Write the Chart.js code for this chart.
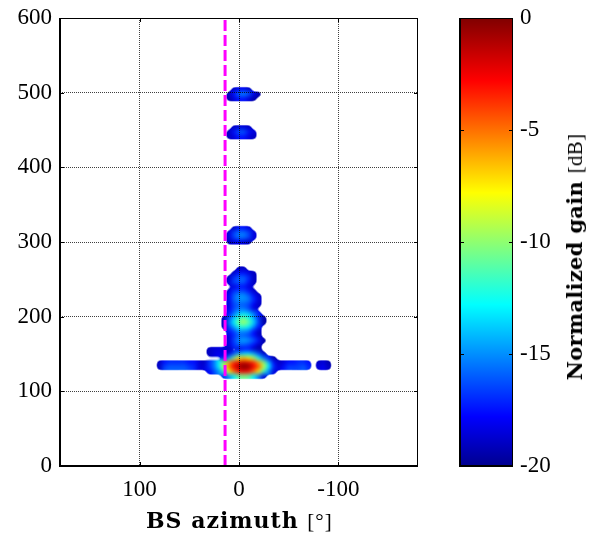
<!DOCTYPE html>
<html>
<head>
<meta charset="utf-8">
<style>
  body { margin: 0; background: #fff; }
  #wrap { position: relative; width: 605px; height: 534px; overflow: hidden; }
  canvas { position: absolute; top: 0; }
  .label { position: absolute; white-space: nowrap; font: bold 21px "DejaVu Serif", serif; color: #000; }
  .label span { font: 21px "Liberation Serif", serif; }
  #xLabel { left: 146px; top: 507px; font-size: 22px; letter-spacing: 1px; }
  #barLabel { left: 575px; top: 257px; letter-spacing: 0.3px; transform: translate(-50%, -50%) rotate(-90deg); }
</style>
</head>
<body>
<div id="wrap">
  <canvas id="mainChart" width="605" height="534" style="left:0"></canvas>
  <canvas id="barChart" width="165" height="534" style="left:440px"></canvas>
  <div class="label" id="xLabel">BS azimuth <span>[°]</span></div>
  <div class="label" id="barLabel">Normalized gain <span>[dB]</span></div>
  <svg width="0" height="0" style="position:absolute">
    <filter id="soften" color-interpolation-filters="sRGB" x="0" y="0" width="100%" height="100%">
      <feGaussianBlur stdDeviation="2.2"></feGaussianBlur>
      <feComponentTransfer>
        <feFuncA type="linear" slope="4" intercept="-1.5"></feFuncA>
      </feComponentTransfer>
    </filter>
  </svg>
</div>
<script src="https://cdn.jsdelivr.net/npm/chart.js@4"></script>
<script>
const xTicks = [100, 0, -100];
const yTicks = [0, 100, 200, 300, 400, 500, 600];
const barTicks = [0, -5, -10, -15, -20];
const beamAzimuth = 14;
const azStep = 5;

// each row starts at firstAz and runs towards negative azimuth in azStep steps
const delays = [504, 498, 492, 453, 447, 441, 318, 312, 306, 300,
  264, 258, 252, 246, 240, 234, 228, 222, 216, 210, 204, 198, 192, 186, 180, 174, 168, 162,
  156, 150, 144, 138, 132, 126, 120];
const firstAz = [5, 10, 10, 5, 10, 10, 5, 10, 10, 10,
  0, 5, 10, 10, 5, 10, 10, 10, 10, 10, 10, 15, 15, 15, 10, 10, 10, 10,
  30, 30, 15, 80, 80, 30, 15];
const gains = [
  [-19, -18, -18, -19],
  [-19, -17.5, -15.5, -15, -16, -18, -19.5],
  [-19.5, -18.5, -17.5, -17.5, -18.5, -19.5],
  [-19, -18.5, -18.5, -19],
  [-19, -17.5, -16, -16, -17.5, -18.5],
  [-19, -18.5, -17.5, -17.5, -18.5, -19],
  [-19, -17.5, -17.5, -18.5],
  [-18.5, -16.5, -15.5, -15.5, -16.5, -18.5],
  [-18.5, -16.5, -15.5, -15.5, -16.5, -18.5],
  [-19, -18.5, -18, -18.5, -19],
  [-19, -19],
  [-19, -17.5, -17.5, -18.5, -19],
  [-19, -17, -16, -16, -17, -19],
  [-18.5, -16.5, -16, -16, -17.5, -19],
  [-18.5, -17.5, -17.5, -18.5],
  [-18.5, -17, -16.5, -16.5, -17.5, -19],
  [-18, -16, -15, -15, -16, -17.5, -19],
  [-18, -16, -15, -15, -15.5, -17, -18.5],
  [-18.5, -16.5, -16, -16, -16.5, -18, -19],
  [-18, -16.5, -15.5, -15.5, -16.5, -18.5],
  [-17.5, -15.5, -14, -13.5, -14, -15.5, -17.5],
  [-19, -16.5, -14, -12, -11, -12.5, -14.5, -17, -19.5],
  [-19, -15.5, -13, -10.5, -9.5, -11, -13.5, -16.5, -19.5],
  [-19, -16.5, -14.5, -12.5, -12, -13, -15, -17.5],
  [-17.5, -16.5, -15, -15, -15.5, -17.5, -19],
  [-18.5, -17, -16, -16, -16.5, -17.5, -19],
  [-18.5, -16.5, -15, -14.5, -15, -16, -17.5, -19.5],
  [-18.5, -17, -16, -16, -16.5, -17.5, -19],
  [-19, -18.5, -18.5, -18.5, -19, null, -18.5, -17.5, -17.5, -19, -19.5],
  [-19, -18.5, -18, -18.5, -18.5, -16.5, -14.5, -13.5, -13.5, -14.5, -16.5, -19],
  [-17.5, -14.5, -10.5, -7.5, -6.5, -7.5, -9.5, -12.5, -15.5, -17.5, -19.5],
  [-19, -17.5, -17, -17, -17, -17, -17.5, -17.5, -18.5, -19, -17, -15.5, -13, -10, -6, -3.5, -2, -1.5, -2, -3.5, -6, -10, -14, -17.5, -19, -18.5, -17.5, -17.5, -17, -17, -17.5, null, -19, -18.5, -19.5],
  [-19, -16.5, -16, -16, -16, -16, -16.5, -17, -18.5, -18.5, -17, -15.5, -13, -9, -5, -2.5, -1, 0, -0.5, -2.5, -4.5, -9, -13, -17, -18.5, -17.5, -16.5, -16.5, -16.5, -16, -17, null, -18.5, -18, -19],
  [-18, -16.5, -15, -12, -8, -5, -3, -2.5, -3, -5, -8, -12, -15.5, -18.5],
  [-17, -15, -13, -11, -10.5, -11, -13, -15.5, -18.5],
];

// jet colormap, position along the -20..0 range and its colour
const jetPos = [0, 0.11, 0.36, 0.61, 0.86, 1];
const jetColors = [[0, 0, 143], [0, 0, 255], [0, 255, 255], [255, 255, 0], [255, 0, 0], [128, 0, 0]];

const gainColor = (gain) => {
  const t = (gain + 20) / 20;
  let i = 0;
  while (i < jetPos.length - 2 && t > jetPos[i + 1]) i += 1;
  const f = (t - jetPos[i]) / (jetPos[i + 1] - jetPos[i]);
  const rgb = jetColors[i].map((c, k) => Math.round(c + (jetColors[i + 1][k] - c) * f));
  return `rgb(${rgb.join(',')})`;
};

const heatPoints = [];
delays.forEach((delay, r) => {
  gains[r].forEach((gain, c) => {
    if (gain !== null) heatPoints.push({ x: firstAz[r] - c * azStep, y: delay, gain });
  });
});

const fontTick = { family: '"Liberation Serif", serif', size: 23 };

// smooths the heat cells, grid and labels go on top afterwards
const blurCells = {
  id: 'blurCells',
  afterDatasetDraw(chart, args) {
    if (args.index !== 0) return;
    const { ctx, canvas } = chart;
    ctx.save();
    ctx.filter = 'url(#soften)';
    ctx.globalCompositeOperation = 'copy';
    ctx.drawImage(canvas, 0, 0);
    ctx.restore();
  },
};

const frame = {
  id: 'frame',
  afterDraw(chart) {
    const { ctx, chartArea: a } = chart;
    ctx.save();
    ctx.strokeStyle = '#000';
    ctx.lineWidth = 1;
    ctx.strokeRect(a.left + 0.5, a.top + 0.5, a.right - a.left - 1, a.bottom - a.top - 1);
    ctx.lineWidth = 2;
    ctx.beginPath();
    ctx.moveTo(a.left, a.top);
    ctx.lineTo(a.left, a.bottom);
    ctx.lineTo(a.right, a.bottom);
    ctx.stroke();
    ctx.lineWidth = 1;
    ctx.beginPath();
    const len = 4;
    if (chart.scales.x.type === 'linear') {
      xTicks.forEach((v) => {
        const px = Math.round(chart.scales.x.getPixelForValue(v)) + 0.5;
        ctx.moveTo(px, a.bottom);
        ctx.lineTo(px, a.bottom - len);
        ctx.moveTo(px, a.top);
        ctx.lineTo(px, a.top + len);
      });
    }
    (chart.scales.x.type === 'linear' ? yTicks : barTicks).forEach((v) => {
      const py = Math.round(chart.scales.y.getPixelForValue(v)) + 0.5;
      ctx.moveTo(a.left, py);
      ctx.lineTo(a.left + len, py);
      ctx.moveTo(a.right, py);
      ctx.lineTo(a.right - len, py);
    });
    ctx.stroke();
    ctx.restore();
  },
};

const fitY = (width) => (s) => {
  s.width = width;
  s.paddingTop = 0;
  s.paddingBottom = 0;
};

new Chart(document.getElementById('mainChart'), {
  type: 'scatter',
  data: {
    datasets: [
      {
        data: heatPoints,
        pointStyle: 'rect',
        pointRadius: 3.7,
        pointBorderWidth: 0,
        backgroundColor: (c) => (c.raw ? gainColor(c.raw.gain) : '#000'),
        order: 2,
      },
      {
        data: [{ x: beamAzimuth, y: 0 }, { x: beamAzimuth, y: 600 }],
        showLine: true,
        pointRadius: 0,
        borderColor: '#ff00ff',
        borderWidth: 3,
        borderDash: [11, 4],
        order: 1,
      },
    ],
  },
  options: {
    responsive: false,
    animation: false,
    layout: { padding: { top: 18, right: 187 } },
    plugins: { legend: { display: false }, tooltip: { enabled: false } },
    scales: {
      x: {
        type: 'linear',
        reverse: true,
        min: -180,
        max: 180,
        afterBuildTicks: (s) => { s.ticks = xTicks.map((value) => ({ value })); },
        afterFit: (s) => { s.height = 68; },
        grid: { color: 'rgba(0,0,0,0.75)', drawTicks: false, z: 1 },
        border: { display: false, dash: [1, 1] },
        ticks: { color: '#000', font: fontTick, padding: 10, maxRotation: 0, z: 1 },
      },
      y: {
        min: 0,
        max: 600,
        afterBuildTicks: (s) => { s.ticks = yTicks.map((value) => ({ value })); },
        afterFit: fitY(60),
        grid: { color: 'rgba(0,0,0,0.75)', drawTicks: false, z: 1 },
        border: { display: false, dash: [1, 1] },
        ticks: { color: '#000', font: fontTick, padding: 8, z: 1 },
      },
    },
  },
  plugins: [blurCells, frame],
});

new Chart(document.getElementById('barChart'), {
  type: 'bar',
  data: {
    labels: ['gain'],
    datasets: [{
      data: [[-20, 0]],
      barPercentage: 1,
      categoryPercentage: 1,
      backgroundColor: (c) => {
        const { chartArea, ctx } = c.chart;
        if (!chartArea) return '#000';
        const g = ctx.createLinearGradient(0, chartArea.bottom, 0, chartArea.top);
        jetPos.forEach((p, i) => g.addColorStop(p, `rgb(${jetColors[i].join(',')})`));
        return g;
      },
    }],
  },
  options: {
    responsive: false,
    animation: false,
    layout: { padding: { top: 18, left: 20 } },
    plugins: { legend: { display: false }, tooltip: { enabled: false } },
    scales: {
      x: {
        display: true,
        grid: { display: false },
        border: { display: false },
        ticks: { display: false },
        afterFit: (s) => { s.height = 68; },
      },
      y: {
        position: 'right',
        min: -20,
        max: 0,
        afterBuildTicks: (s) => { s.ticks = barTicks.map((value) => ({ value })); },
        afterFit: fitY(92),
        grid: { display: false, drawTicks: false },
        border: { display: false },
        ticks: { color: '#000', font: fontTick, padding: 7 },
      },
    },
  },
  plugins: [frame],
});
</script>
</body>
</html>
